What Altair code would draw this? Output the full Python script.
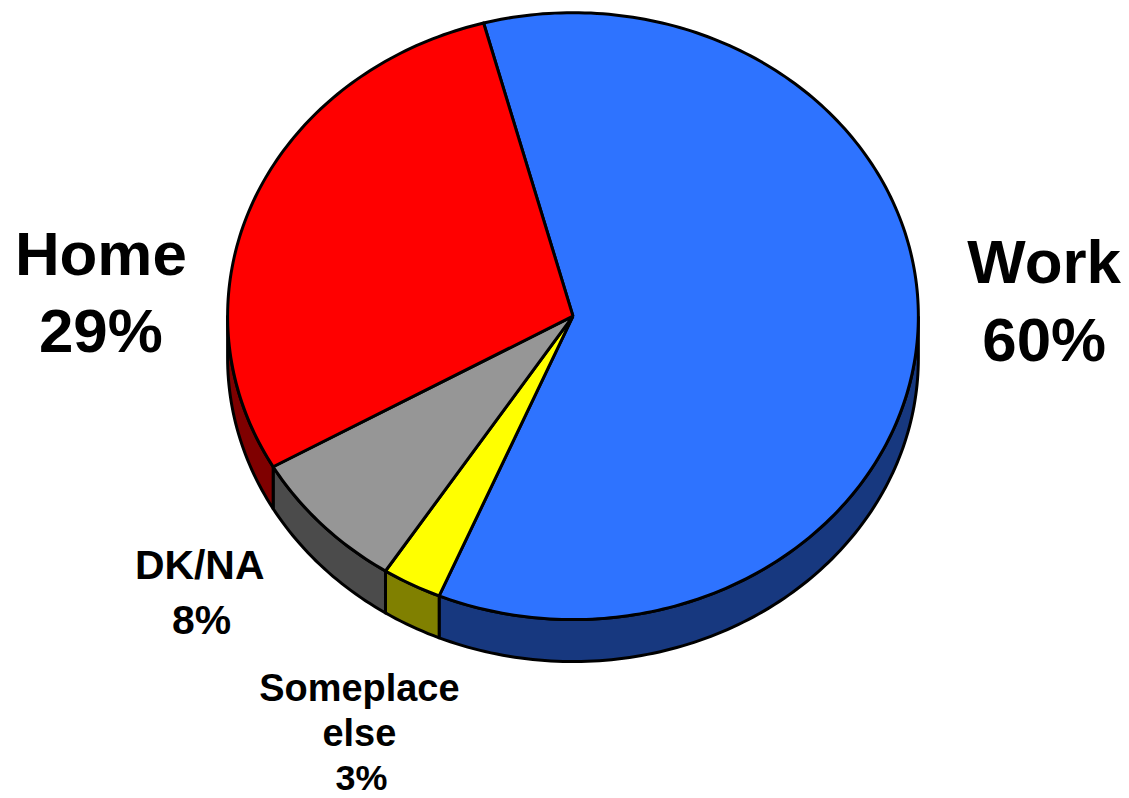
import math
import altair as alt
import pandas as pd

labels = ["Work", "Someplace else", "DK/NA", "Home"]
shares = [60.5, 2.8, 7.6, 29.1]
top_colors = ["#2E73FF", "#FFFF00", "#969696", "#FF0000"]
side_colors = ["#17387F", "#808000", "#4B4B4B", "#7F0000"]
START = -15.0
CX, CY, RX, RY, DEPTH = 574, 316, 346, 304, 42

text_rows = [
    ("Home", 101, 256, 62), ("29%", 101, 333, 62),
    ("Work", 1046, 264, 62), ("60%", 1046, 342, 62),
    ("DK/NA", 200, 567, 41), ("8%", 202, 622, 41),
    ("Someplace", 360, 691, 38), ("else", 360, 736, 38), ("3%", 362, 780, 36),
]

def pt(t, dy=0):
    r = math.radians(t)
    return CX + RX * math.sin(r), CY - RY * math.cos(r) + dy

rows, a = [], START
for i, (name, s) in enumerate(zip(labels, shares)):
    b = a + s * 3.6
    # side wall: visible lower half only
    lo, hi = max(a, 90), min(b, 270)
    if lo < hi:
        n = max(2, int(hi - lo) + 1)
        arc = [lo + (hi - lo) * k / (n - 1) for k in range(n)]
        poly = [pt(t) for t in arc] + [pt(t, DEPTH) for t in reversed(arc)]
        poly.append(poly[0])
        rows += [dict(key=f"0side{i}", kind="side" + str(i), o=j, x=p[0], y=p[1]) for j, p in enumerate(poly)]
    n = int(b - a) + 2
    arc = [a + (b - a) * k / (n - 1) for k in range(n)]
    poly = [(CX, CY)] + [pt(t) for t in arc] + [(CX, CY)]
    rows += [dict(key=f"1top{i}", kind="top" + str(i), o=j, x=p[0], y=p[1]) for j, p in enumerate(poly)]
    a = b
df = pd.DataFrame(rows)

domain = [f"side{i}" for i in range(4)] + [f"top{i}" for i in range(4)]
crange = side_colors + top_colors
x_s = alt.Scale(domain=[8, 1121], range=[0, 1113], nice=False, zero=False)
y_s = alt.Scale(domain=[8, 797], range=[0, 789], nice=False, zero=False)
x_e = alt.X("x:Q", scale=x_s, axis=None)
y_e = alt.Y("y:Q", scale=y_s, axis=None)

layers = []
for k in sorted(df["key"].unique()):
    sub = df[df["key"] == k]
    kind = sub["kind"].iloc[0]
    layers.append(
        alt.Chart(sub).mark_line(stroke="black", strokeWidth=3, fill=crange[domain.index(kind)],
                                 strokeJoin="round", clip=False)
        .encode(x=x_e, y=y_e, order="o:Q")
    )

tdf = pd.DataFrame(text_rows, columns=["t", "x", "y", "fs"])
for fs in sorted(tdf["fs"].unique()):
    layers.append(
        alt.Chart(tdf[tdf["fs"] == fs]).mark_text(font="Liberation Sans", fontWeight="bold", fontSize=int(fs),
                                                  color="black", align="center", baseline="middle")
        .encode(x=alt.X("x:Q", scale=x_s, axis=None), y=alt.Y("y:Q", scale=y_s, axis=None), text="t:N")
    )

chart = alt.layer(*layers).properties(width=1113, height=789, padding=0, background="white").configure_view(stroke=None)
chart.save("out.html", embed_options={"renderer": "svg", "actions": False})
